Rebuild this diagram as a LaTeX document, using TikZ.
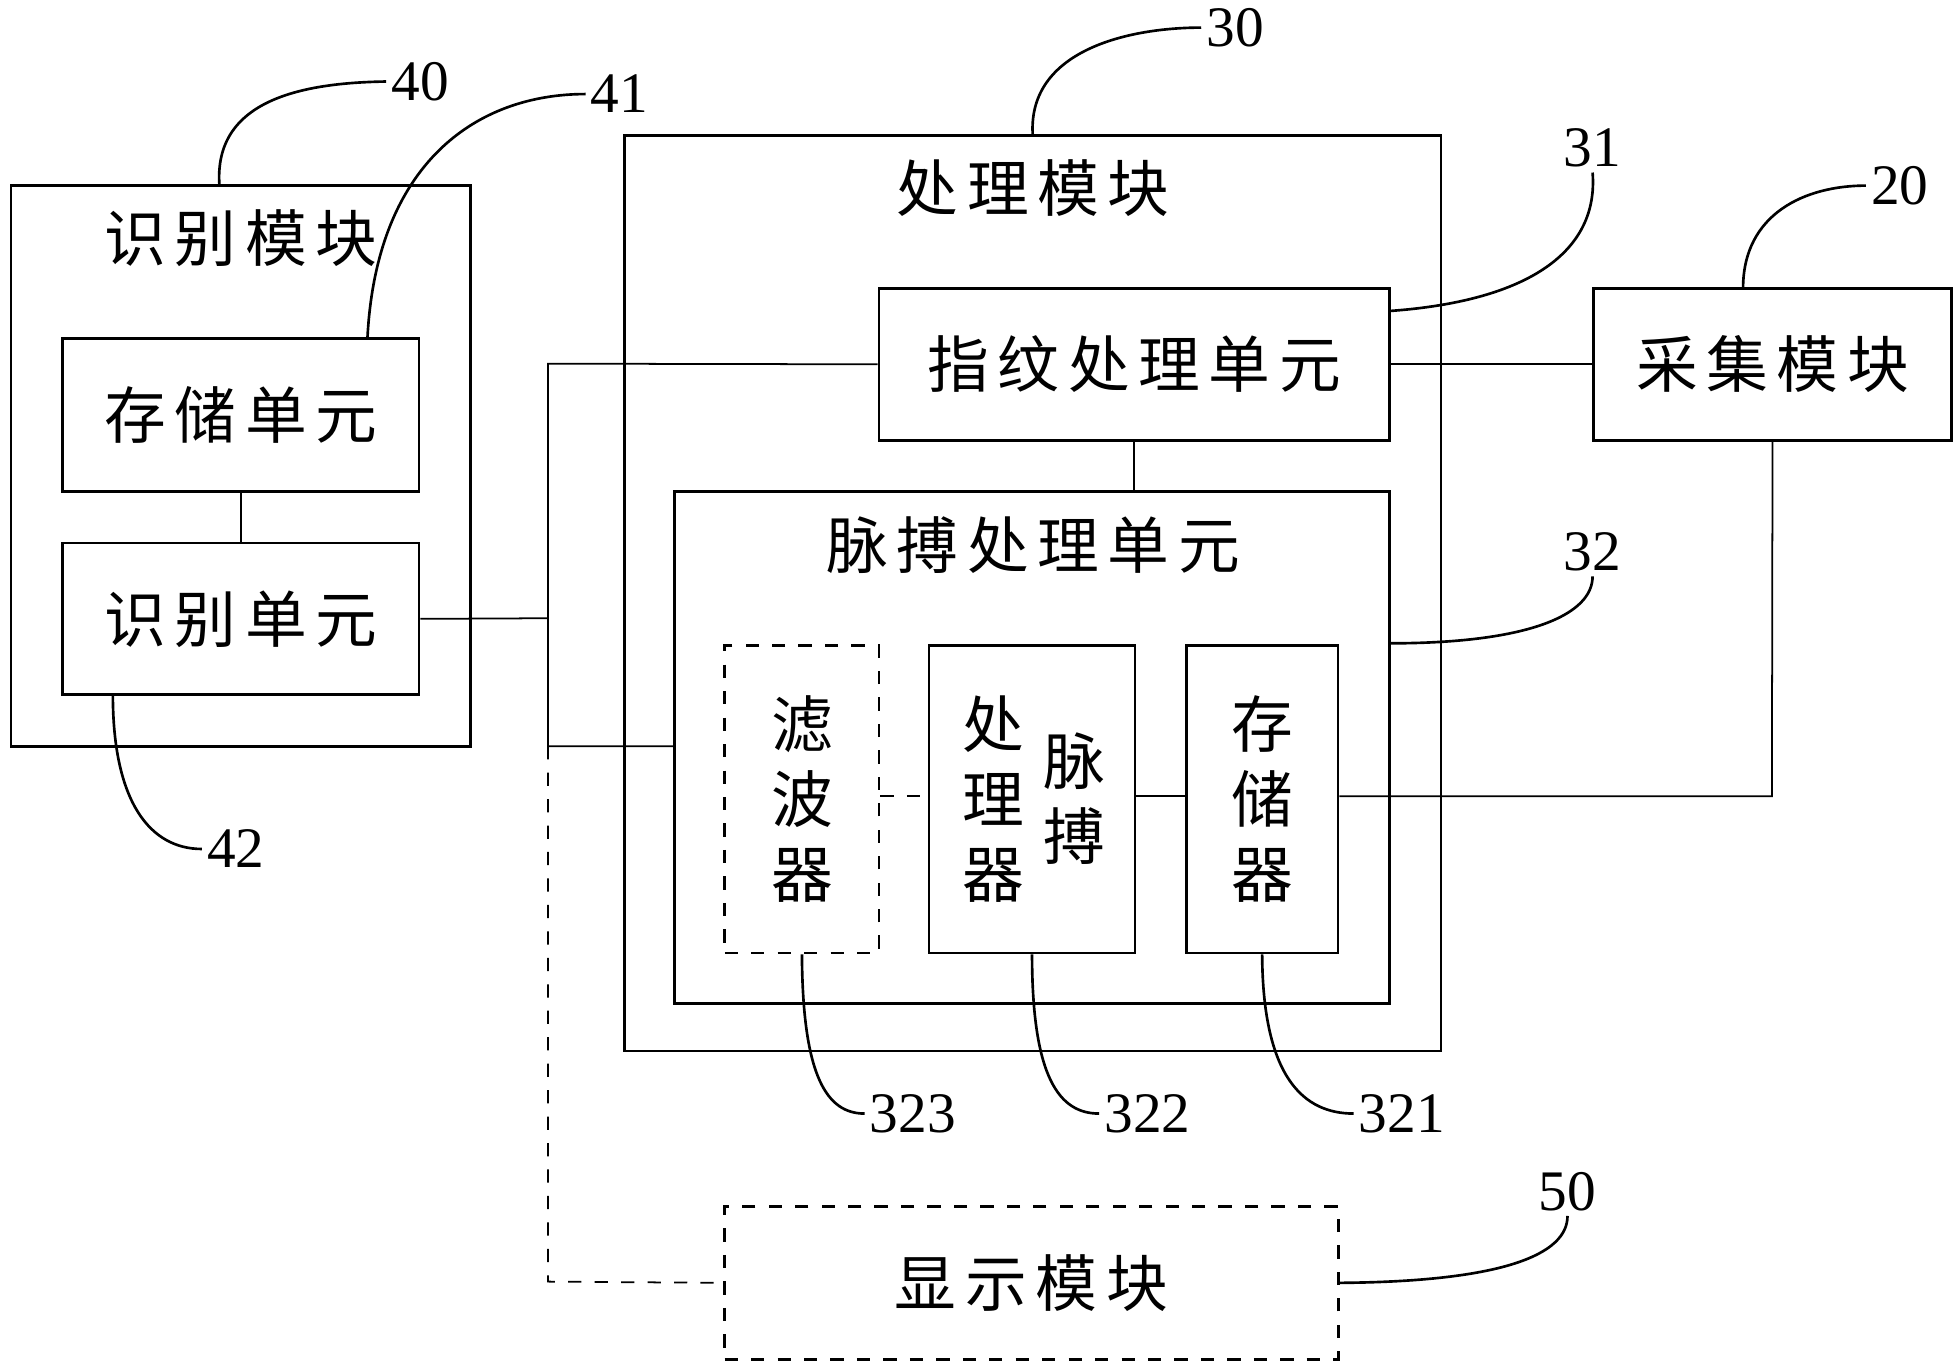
\documentclass[tikz,border=0pt]{standalone}
\usepackage{fontspec}
\setmainfont{Liberation Serif}
\newfontfamily\cjk[LetterSpace=14]{Noto Sans CJK SC}
\usetikzlibrary{positioning}
\tikzset{box/.style={draw, semithick, inner sep=0pt, font=\cjk\fontsize{14}{17}\selectfont},
    dbox/.style={box, dashed},
    title/.style={font=\cjk\fontsize{14}{17}\selectfont, align=center},
    tag/.style={font=\fontsize{13}{15}\selectfont, inner sep=1pt},
    leader/.style={semithick},
    link/.style={thin},
}
\begin{document}
\begin{tikzpicture}[x=0.01cm, y=-0.01cm]
\useasboundingbox (0,0) rectangle (1563,1093);

% identification module
\node[box, minimum width=3.66cm, minimum height=4.47cm] (idm) at (192,371.5) {};
\node[title] (idmt) at (192,190) {识别模块};
\node[box, minimum width=2.84cm, minimum height=1.22cm] (store) at (192,331) {存储单元};
\node[box, minimum width=2.84cm, minimum height=1.21cm] (ident) at (192,493.5) {识别单元};

% processing module
\node[box, minimum width=6.51cm, minimum height=7.30cm] (proc) at (823.5,473) {};
\node[title] (proct) at (824,150) {处理模块};
\node[box, minimum width=4.07cm, minimum height=1.21cm] (finger) at (904.5,290.5) {指纹处理单元};
\node[box, minimum width=5.70cm, minimum height=4.08cm] (pulse) at (823,596) {};
\node[title] (pulset) at (824,435) {脉搏处理单元};
\node[dbox, minimum width=1.23cm, minimum height=2.45cm, align=center] (filter) at (639.5,637.5) {滤\\波\\器};
\node[box, minimum width=1.64cm, minimum height=2.45cm] (cpu) at (823,637.5) {};
\node[title] (cput1) at (792,637) {处\\理\\器};
\node[title] (cput2) at (857,637) {脉\\搏};
\node[box, minimum width=1.21cm, minimum height=2.45cm, align=center] (mem) at (1006.5,637.5) {存\\储\\器};

% acquisition and display
\node[box, minimum width=2.85cm, minimum height=1.21cm] (acq) at (1413.5,290.5) {采集模块};
\node[dbox, minimum width=4.89cm, minimum height=1.22cm] (disp) at (822.5,1023) {显示模块};

% connections
\coordinate (bus1) at (437,290);
\coordinate (bus2) at (437,493);
\coordinate (bus3) at (437,595);
\coordinate (bus4) at (437,1022);
\coordinate (acqd) at (1413,635);
\draw[link] (finger.west) -- (bus1) -- (bus3) -- (pulse.west |- bus3);
\draw[link] (ident.east) -- (bus2);
\draw[link, dashed] (bus3) -- (bus4) -- (disp.west);
\draw[link] (store) -- (ident);
\draw[link] (finger) -- (acq);
\draw[link] (finger.south) -- (finger.south |- pulse.north);
\draw[link] (acq.south) -- (acqd) -- (mem.east |- acqd);
\draw[link, dashed] (filter.east |- acqd) -- (cpu.west |- acqd);
\draw[link] (cpu.east |- acqd) -- (mem.west |- acqd);

% reference numbers
\node[tag] (n40) at (335,65) {40};
\node[tag] (n41) at (494,75) {41};
\node[tag] (n30) at (985,22) {30};
\node[tag] (n31) at (1270,118) {31};
\node[tag] (n20) at (1515,148) {20};
\node[tag] (n32) at (1270,440) {32};
\node[tag] (n42) at (188,677) {42};
\node[tag] (n323) at (728,888) {323};
\node[tag] (n322) at (915,888) {322};
\node[tag] (n321) at (1118,888) {321};
\node[tag] (n50) at (1250,950) {50};

\draw[leader] (175,148) .. controls (170,80) and (240,66) .. (n40.west);
\draw[leader] (293,270) .. controls (300,130) and (380,75) .. (n41.west);
\draw[leader] (proc.north) .. controls (820,40) and (900,22) .. (n30.west);
\draw[leader] (1108,248) .. controls (1220,240) and (1275,200) .. (n31.south);
\draw[leader] (1390,230) .. controls (1390,170) and (1440,148) .. (n20.west);
\draw[leader] (1108,513) .. controls (1220,513) and (1270,490) .. (n32.south);
\draw[leader] (90,554) .. controls (90,640) and (120,677) .. (n42.west);
\draw[leader] (filter.south) .. controls (640,860) and (660,888) .. (n323.west);
\draw[leader] (cpu.south) .. controls (823,860) and (845,888) .. (n322.west);
\draw[leader] (mem.south) .. controls (1007,860) and (1040,888) .. (n321.west);
\draw[leader] (disp.east) .. controls (1200,1022) and (1250,1000) .. (n50.south);
\end{tikzpicture}
\end{document}
